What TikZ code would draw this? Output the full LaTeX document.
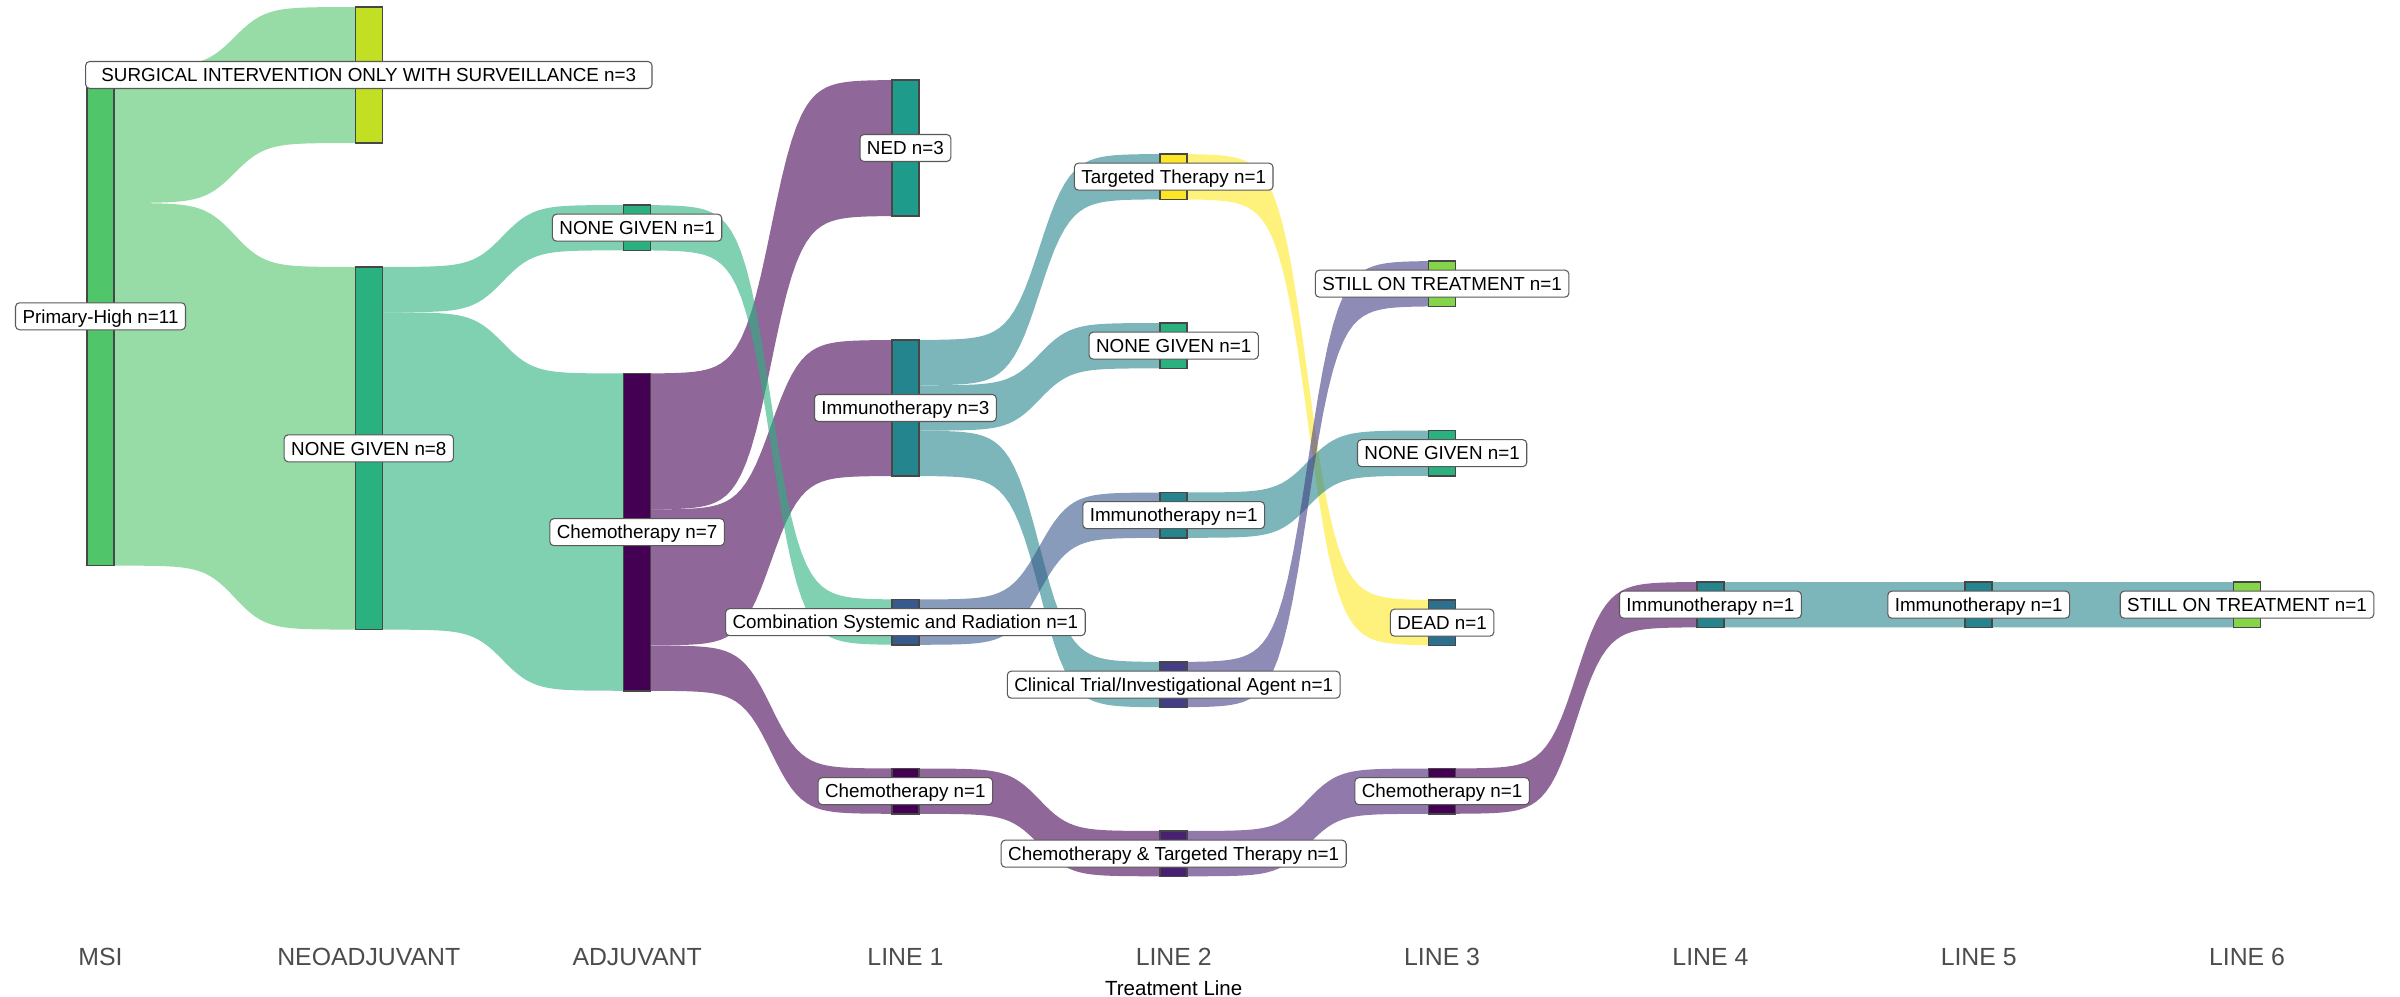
\documentclass[tikz,border=0pt]{standalone}
\usepackage{fontspec}
\setmainfont{Liberation Sans}
\usetikzlibrary{calc,backgrounds}
\definecolor{cCh}{HTML}{440154}
\definecolor{cCTT}{HTML}{482173}
\definecolor{cCT}{HTML}{433E85}
\definecolor{cComb}{HTML}{38598C}
\definecolor{cDEAD}{HTML}{2D708E}
\definecolor{cIm}{HTML}{25858E}
\definecolor{cNED}{HTML}{1E9B8A}
\definecolor{cNG}{HTML}{2BB07F}
\definecolor{cPH}{HTML}{51C56A}
\definecolor{cST}{HTML}{85D54A}
\definecolor{cSG}{HTML}{C2DF23}
\definecolor{cTT}{HTML}{FDE725}
\def\U{0.453cm}
\tikzset{
  bar/.style={rectangle, draw=black!72, line width=0.45pt, minimum width=0.27cm,
    inner sep=0pt, outer sep=0pt, anchor=north},
  lab/.style={rectangle, rounded corners=0.04cm, draw=black!65, line width=0.3pt,
    fill=white, font=\fontsize{5.35}{6}\selectfont, text height=3.83pt, text depth=0pt,
    inner xsep=0.07cm, inner ysep=0.0675cm},
  axlab/.style={font=\fontsize{7.06}{8}\selectfont, text=black!70, anchor=base, inner sep=0pt},
  ttl/.style={font=\fontsize{5.83}{7}\selectfont, text=black, anchor=base, inner sep=0pt},
  ribbonfill/.style={fill=#1, fill opacity=0.6}
}
% #1 source node, #2 source offset (units), #3 target node, #4 target offset, #5 thickness, #6 colour
\newcommand\ribbon[6]{%
  \fill[ribbonfill=#6] let \p1=(#1.north east), \p2=(#3.north west) in
    plot[variable=\rt, domain=0:16, samples=49]
      ({\x1+\rt/16*(\x2-\x1)}, {\y1-(#2)*\U+((\y2-(#4)*\U)-(\y1-(#2)*\U))/(1+exp(8-\rt))})
    -- plot[variable=\rt, domain=16:0, samples=49]
      ({\x1+\rt/16*(\x2-\x1)}, {\y1-(#2+#5)*\U+((\y2-(#4+#5)*\U)-(\y1-(#2+#5)*\U))/(1+exp(8-\rt))})
    -- cycle;}
\begin{document}
\begin{tikzpicture}[x=0.01cm, y=-0.01cm]
\useasboundingbox (0,0) rectangle (2400,997);
% bars
\node[bar, fill=cPH, minimum height=11*\U] (PH) at (100.5,67) {};
\node[bar, fill=cSG, minimum height=3*\U] (SG) at (368.8,7) {};
\node[bar, fill=cNG, minimum height=8*\U] (NG8) at (368.8,267) {};
\node[bar, fill=cNG, minimum height=1*\U] (NGa) at (637.1,205) {};
\node[bar, fill=cCh, minimum height=7*\U] (Ch7) at (637.1,373.5) {};
\node[bar, fill=cNED, minimum height=3*\U] (NED) at (905.4,80) {};
\node[bar, fill=cIm, minimum height=3*\U] (Im3) at (905.4,340) {};
\node[bar, fill=cComb, minimum height=1*\U] (Comb) at (905.4,599.5) {};
\node[bar, fill=cCh, minimum height=1*\U] (Ch1) at (905.4,768.5) {};
\node[bar, fill=cTT, minimum height=1*\U] (TT) at (1173.7,154) {};
\node[bar, fill=cNG, minimum height=1*\U] (NG2) at (1173.7,323) {};
\node[bar, fill=cIm, minimum height=1*\U] (Im2) at (1173.7,492.5) {};
\node[bar, fill=cCT, minimum height=1*\U] (CT) at (1173.7,662) {};
\node[bar, fill=cCTT, minimum height=1*\U] (CTT) at (1173.7,831) {};
\node[bar, fill=cST, minimum height=1*\U] (ST3) at (1442.1,261) {};
\node[bar, fill=cNG, minimum height=1*\U] (NG3) at (1442.1,430.5) {};
\node[bar, fill=cDEAD, minimum height=1*\U] (DEAD) at (1442.1,600) {};
\node[bar, fill=cCh, minimum height=1*\U] (Ch3) at (1442.1,768.5) {};
\node[bar, fill=cIm, minimum height=1*\U] (Im4) at (1710.4,582) {};
\node[bar, fill=cIm, minimum height=1*\U] (Im5) at (1978.7,582) {};
\node[bar, fill=cST, minimum height=1*\U] (ST6) at (2247,582) {};
% ribbons
\begin{scope}[on background layer]
\ribbon{PH}{0}{SG}{0}{3}{cPH}
\ribbon{PH}{3}{NG8}{0}{8}{cPH}
\ribbon{NG8}{0}{NGa}{0}{1}{cNG}
\ribbon{NG8}{1}{Ch7}{0}{7}{cNG}
\ribbon{Ch7}{0}{NED}{0}{3}{cCh}
\ribbon{Ch7}{3}{Im3}{0}{3}{cCh}
\ribbon{Ch7}{6}{Ch1}{0}{1}{cCh}
\ribbon{NGa}{0}{Comb}{0}{1}{cNG}
\ribbon{Im3}{0}{TT}{0}{1}{cIm}
\ribbon{Im3}{1}{NG2}{0}{1}{cIm}
\ribbon{Im3}{2}{CT}{0}{1}{cIm}
\ribbon{Comb}{0}{Im2}{0}{1}{cComb}
\ribbon{Ch1}{0}{CTT}{0}{1}{cCh}
\ribbon{TT}{0}{DEAD}{0}{1}{cTT}
\ribbon{Im2}{0}{NG3}{0}{1}{cIm}
\ribbon{CT}{0}{ST3}{0}{1}{cCT}
\ribbon{CTT}{0}{Ch3}{0}{1}{cCTT}
\ribbon{Ch3}{0}{Im4}{0}{1}{cCh}
\ribbon{Im4}{0}{Im5}{0}{1}{cIm}
\ribbon{Im5}{0}{ST6}{0}{1}{cIm}
\end{scope}
% labels
\node[lab] (lPH) at (PH) {Primary-High n=11};
\node[lab, minimum width=5.66cm] (lSG) at (SG) {SURGICAL INTERVENTION ONLY WITH SURVEILLANCE n=3};
\node[lab] (lNG8) at (NG8) {NONE GIVEN n=8};
\node[lab] (lNGa) at (NGa) {NONE GIVEN n=1};
\node[lab] (lCh7) at (Ch7) {Chemotherapy n=7};
\node[lab] (lNED) at (NED) {NED n=3};
\node[lab] (lIm3) at (Im3) {Immunotherapy n=3};
\node[lab] (lComb) at (Comb) {Combination Systemic and Radiation n=1};
\node[lab] (lCh1) at (Ch1) {Chemotherapy n=1};
\node[lab] (lTT) at (TT) {Targeted Therapy n=1};
\node[lab] (lNG2) at (NG2) {NONE GIVEN n=1};
\node[lab] (lIm2) at (Im2) {Immunotherapy n=1};
\node[lab] (lCT) at (CT) {Clinical Trial/Investigational Agent n=1};
\node[lab] (lCTT) at (CTT) {Chemotherapy \& Targeted Therapy n=1};
\node[lab] (lST3) at (ST3) {STILL ON TREATMENT n=1};
\node[lab] (lNG3) at (NG3) {NONE GIVEN n=1};
\node[lab] (lDEAD) at (DEAD) {DEAD n=1};
\node[lab] (lCh3) at (Ch3) {Chemotherapy n=1};
\node[lab] (lIm4) at (Im4) {Immunotherapy n=1};
\node[lab] (lIm5) at (Im5) {Immunotherapy n=1};
\node[lab] (lST6) at (ST6) {STILL ON TREATMENT n=1};
% axis
\node[axlab] (a0) at (100.5,965) {MSI};
\node[axlab] (a1) at (368.8,965) {NEOADJUVANT};
\node[axlab] (a2) at (637.1,965) {ADJUVANT};
\node[axlab] (a3) at (905.4,965) {LINE 1};
\node[axlab] (a4) at (1173.7,965) {LINE 2};
\node[axlab] (a5) at (1442.1,965) {LINE 3};
\node[axlab] (a6) at (1710.4,965) {LINE 4};
\node[axlab] (a7) at (1978.7,965) {LINE 5};
\node[axlab] (a8) at (2247,965) {LINE 6};
\node[ttl] (title) at (1173.7,995) {Treatment Line};
\end{tikzpicture}
\end{document}
